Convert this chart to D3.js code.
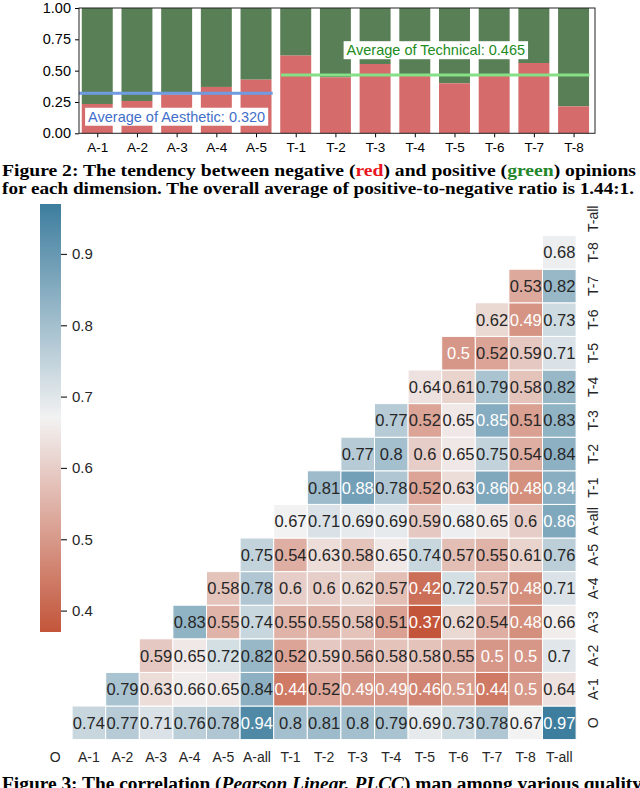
<!DOCTYPE html>
<html>
<head>
<meta charset="utf-8">
<script src="https://cdn.jsdelivr.net/npm/d3@7"></script>
<style>
  html, body { margin: 0; padding: 0; background: #fff; }
  svg { display: block; }
</style>
</head>
<body>
<script>
// ---- data: figure 2 (share of negative opinions per dimension) ----
const barCats = ['A-1', 'A-2', 'A-3', 'A-4', 'A-5', 'T-1', 'T-2', 'T-3', 'T-4', 'T-5', 'T-6', 'T-7', 'T-8'];
const negShare = [0.234, 0.258, 0.31, 0.37, 0.428, 0.62, 0.447, 0.553, 0.462, 0.399, 0.462, 0.561, 0.215];
const avgAesthetic = 0.320;
const avgTechnical = 0.465;
const yTicks = [0, 0.25, 0.5, 0.75, 1];

// ---- data: figure 3 (PLCC map), row i holds columns i+1 .. end ----
const dims = ['O', 'A-1', 'A-2', 'A-3', 'A-4', 'A-5', 'A-all', 'T-1', 'T-2', 'T-3', 'T-4', 'T-5', 'T-6', 'T-7', 'T-8', 'T-all'];
const corrRows = [
  [0.74, 0.77, 0.71, 0.76, 0.78, 0.94, 0.8, 0.81, 0.8, 0.79, 0.69, 0.73, 0.78, 0.67, 0.97],
  [0.79, 0.63, 0.66, 0.65, 0.837, 0.44, 0.52, 0.49, 0.49, 0.46, 0.506, 0.44, 0.5, 0.64],
  [0.59, 0.65, 0.72, 0.82, 0.52, 0.59, 0.56, 0.58, 0.58, 0.55, 0.497, 0.497, 0.7],
  [0.83, 0.55, 0.74, 0.55, 0.55, 0.58, 0.514, 0.37, 0.62, 0.54, 0.48, 0.66],
  [0.58, 0.78, 0.6, 0.6, 0.62, 0.57, 0.42, 0.72, 0.57, 0.48, 0.71],
  [0.75, 0.54, 0.63, 0.58, 0.65, 0.74, 0.57, 0.55, 0.61, 0.76],
  [0.67, 0.71, 0.69, 0.69, 0.59, 0.68, 0.65, 0.6, 0.86],
  [0.81, 0.88, 0.78, 0.52, 0.63, 0.86, 0.48, 0.844],
  [0.77, 0.8, 0.6, 0.65, 0.75, 0.54, 0.837],
  [0.77, 0.52, 0.65, 0.85, 0.514, 0.83],
  [0.64, 0.61, 0.79, 0.58, 0.82],
  [0.497, 0.52, 0.59, 0.71],
  [0.62, 0.49, 0.73],
  [0.53, 0.82],
  [0.68]
];
const cbTicks = [0.4, 0.5, 0.6, 0.7, 0.8, 0.9];

const W = 640, H = 788;
const svg = d3.select('body').append('svg').attr('width', W).attr('height', H);
const sans = 'Liberation Sans, Arial, sans-serif';
const serif = 'Liberation Serif, Times New Roman, serif';

// =====================================================================
// Figure 2: stacked bars
// =====================================================================
const x = d3.scaleLinear().domain([-0.46, 12.54]).range([79, 595]);
const y = d3.scaleLinear().domain([0, 1]).range([133.3, 8]);
const halfW = 0.39;

const bars = svg.append('g');
bars.selectAll('rect.pos').data(negShare).join('rect')
  .attr('x', (d, i) => x(i - halfW))
  .attr('width', x(halfW) - x(-halfW))
  .attr('y', y(1))
  .attr('height', d => y(d) - y(1))
  .attr('fill', '#597f56');
bars.selectAll('rect.neg').data(negShare).join('rect')
  .attr('x', (d, i) => x(i - halfW))
  .attr('width', x(halfW) - x(-halfW))
  .attr('y', d => y(d))
  .attr('height', d => y(0) - y(d))
  .attr('fill', '#d56b6b');

// average lines
svg.append('clipPath').attr('id', 'plotclip')
  .append('rect').attr('x', 79).attr('y', 8).attr('width', 516).attr('height', 125.3);
svg.append('line')
  .attr('clip-path', 'url(#plotclip)')
  .attr('x1', x(-0.5)).attr('x2', x(4.42))
  .attr('y1', y(avgAesthetic)).attr('y2', y(avgAesthetic))
  .attr('stroke', '#6f9be0').attr('stroke-width', 3);
svg.append('line')
  .attr('x1', x(4.63)).attr('x2', x(12.4))
  .attr('y1', y(avgTechnical)).attr('y2', y(avgTechnical))
  .attr('stroke', '#86e086').attr('stroke-width', 3);

function boxedLabel(cx, cy, txt, color) {
  const g = svg.append('g');
  const t = g.append('text')
    .attr('x', cx).attr('y', cy).attr('dy', '0.36em')
    .attr('text-anchor', 'middle')
    .attr('font-family', sans).attr('font-size', 14.5)
    .attr('fill', color).text(txt);
  const b = t.node().getBBox();
  g.insert('rect', 'text')
    .attr('x', b.x - 3).attr('y', b.y - 1)
    .attr('width', b.width + 6).attr('height', b.height + 2)
    .attr('fill', '#fff');
}
boxedLabel(x(2), y(0.134), 'Average of Aesthetic: ' + d3.format('.3f')(avgAesthetic), '#3f6fca');
boxedLabel(x(8.53), y(0.665), 'Average of Technical: ' + d3.format('.3f')(avgTechnical), '#228b22');

// axes
const yAx = svg.append('g').attr('transform', 'translate(79,0)')
  .call(d3.axisLeft(y).tickValues(yTicks).tickFormat(d3.format('.2f')).tickSize(4).tickPadding(4));
const xAx = svg.append('g').attr('transform', `translate(0,${y(0)})`)
  .call(d3.axisBottom(x).tickValues(d3.range(barCats.length)).tickFormat(i => barCats[i]).tickSize(4).tickPadding(5));
[yAx, xAx].forEach(a => {
  a.select('.domain').remove();
  a.selectAll('text').attr('font-family', sans).attr('font-size', 14.5).attr('fill', '#000');
  a.selectAll('line').attr('stroke', '#000');
});
xAx.selectAll('text').attr('font-size', 13.5);
svg.append('rect')
  .attr('x', 79).attr('y', 8).attr('width', 516).attr('height', y(0) - 8)
  .attr('fill', 'none').attr('stroke', '#222').attr('stroke-width', 1);

// caption of figure 2
const cap1 = svg.append('text').attr('x', 2).attr('y', 176)
  .attr('font-family', serif).attr('font-weight', 'bold').attr('font-size', 17)
  .attr('textLength', 634).attr('lengthAdjust', 'spacingAndGlyphs');
cap1.append('tspan').text('Figure 2: The tendency between negative (');
cap1.append('tspan').attr('fill', '#e8161c').text('red');
cap1.append('tspan').text(') and positive (');
cap1.append('tspan').attr('fill', '#23862a').text('green');
cap1.append('tspan').text(') opinions');
svg.append('text').attr('x', 2).attr('y', 194)
  .attr('font-family', serif).attr('font-weight', 'bold').attr('font-size', 17)
  .attr('textLength', 632).attr('lengthAdjust', 'spacingAndGlyphs')
  .text('for each dimension. The overall average of positive-to-negative ratio is 1.44:1.');
svg.append('rect').attr('x', 0).attr('y', 198.5).attr('width', W).attr('height', 8).attr('fill', '#fff');

// =====================================================================
// Figure 3: correlation heatmap
// =====================================================================
const cells = [];
corrRows.forEach((row, i) => row.forEach((v, k) => cells.push({ r: dims[i], c: dims[i + 1 + k], v })));
const [vmin, vmax] = d3.extent(cells, d => d.v);
const vmid = (vmin + vmax) / 2;
const negC = '#c3553a', midC = '#f2f2f2', posC = '#3d7d9e';
const color = d3.scaleLinear().domain([vmin, vmid, vmax]).range([negC, midC, posC]).interpolate(d3.interpolateRgb);

const pitch = 33.6;
const x0 = 38.5, y0 = 202;
const xh = d3.scaleBand().domain(dims).range([x0, x0 + dims.length * pitch]);
const yh = d3.scaleBand().domain(dims.slice().reverse()).range([y0, y0 + dims.length * pitch]);

function lum(c) {
  const rgb = d3.rgb(c);
  const f = u => { u /= 255; return u <= 0.03928 ? u / 12.92 : Math.pow((u + 0.055) / 1.055, 2.4); };
  return 0.2126 * f(rgb.r) + 0.7152 * f(rgb.g) + 0.0722 * f(rgb.b);
}

const hm = svg.append('g');
hm.selectAll('rect').data(cells).join('rect')
  .attr('x', d => xh(d.c)).attr('y', d => yh(d.r))
  .attr('width', xh.bandwidth()).attr('height', yh.bandwidth())
  .attr('fill', d => color(d.v))
  .attr('stroke', '#fff').attr('stroke-width', 1);
hm.selectAll('text').data(cells).join('text')
  .attr('x', d => xh(d.c) + xh.bandwidth() / 2)
  .attr('y', d => yh(d.r) + yh.bandwidth() / 2)
  .attr('dy', '0.36em').attr('text-anchor', 'middle')
  .attr('font-family', sans).attr('font-size', 16.5)
  .attr('fill', d => lum(color(d.v)) > 0.408 ? '#262626' : '#fff')
  .text(d => d3.format('.2')(d.v));

// tick labels
svg.append('g').selectAll('text').data(dims).join('text')
  .attr('x', d => xh(d) + xh.bandwidth() / 2).attr('y', 762)
  .attr('text-anchor', 'middle')
  .attr('font-family', sans).attr('font-size', 14).attr('fill', '#262626')
  .text(d => d);
svg.append('g').selectAll('text').data(dims).join('text')
  .attr('transform', d => `translate(${x0 + dims.length * pitch + 17},${yh(d) + yh.bandwidth() / 2}) rotate(-90)`)
  .attr('dy', '0.36em').attr('text-anchor', 'middle')
  .attr('font-family', sans).attr('font-size', 14).attr('fill', '#262626')
  .text(d => d);

// colorbar
const cb = d3.scaleLinear().domain([vmin, vmax]).range([632, 204]);
const grad = svg.append('defs').append('linearGradient').attr('id', 'cbgrad')
  .attr('x1', 0).attr('y1', 1).attr('x2', 0).attr('y2', 0);
grad.append('stop').attr('offset', '0%').attr('stop-color', negC);
grad.append('stop').attr('offset', '50%').attr('stop-color', midC);
grad.append('stop').attr('offset', '100%').attr('stop-color', posC);
svg.append('rect').attr('x', 40).attr('y', cb(vmax)).attr('width', 21).attr('height', cb(vmin) - cb(vmax))
  .attr('fill', 'url(#cbgrad)');
const cbAx = svg.append('g').attr('transform', 'translate(61,0)')
  .call(d3.axisRight(cb).tickValues(cbTicks).tickFormat(d3.format('.1f')).tickSize(6).tickPadding(5));
cbAx.select('.domain').remove();
cbAx.selectAll('line').attr('stroke', '#262626').attr('stroke-width', 1.2);
cbAx.selectAll('text').attr('font-family', sans).attr('font-size', 15).attr('fill', '#262626');

// caption of figure 3 (cut by page edge)
const cap3 = svg.append('text').attr('x', 2).attr('y', 790)
  .attr('font-family', serif).attr('font-weight', 'bold').attr('font-size', 18)
  .attr('textLength', 640).attr('lengthAdjust', 'spacingAndGlyphs');
cap3.append('tspan').text('Figure 3: The correlation (');
cap3.append('tspan').attr('font-style', 'italic').text('Pearson Linear, PLCC');
cap3.append('tspan').text(') map among various quality');
</script>
</body>
</html>
